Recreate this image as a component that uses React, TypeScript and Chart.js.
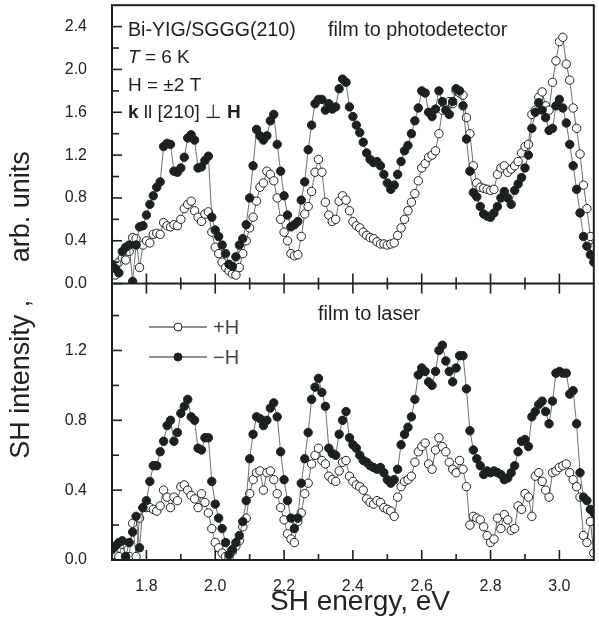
import React, { useEffect, useRef } from 'react';
import { Chart, registerables } from 'chart.js';

Chart.register(...registerables);

// SH energy, eV
const energy = [
  1.70, 1.71, 1.72, 1.73, 1.74, 1.75, 1.76, 1.77, 1.78, 1.79,
  1.80, 1.81, 1.82, 1.83, 1.84, 1.85, 1.86, 1.87, 1.88, 1.89,
  1.90, 1.91, 1.92, 1.93, 1.94, 1.95, 1.96, 1.97, 1.98, 1.99,
  2.00, 2.01, 2.02, 2.03, 2.04, 2.05, 2.06, 2.07, 2.08, 2.09,
  2.10, 2.11, 2.12, 2.13, 2.14, 2.15, 2.16, 2.17, 2.18, 2.19,
  2.20, 2.21, 2.22, 2.23, 2.24, 2.25, 2.26, 2.27, 2.28, 2.29,
  2.30, 2.31, 2.32, 2.33, 2.34, 2.35, 2.36, 2.37, 2.38, 2.39,
  2.40, 2.41, 2.42, 2.43, 2.44, 2.45, 2.46, 2.47, 2.48, 2.49,
  2.50, 2.51, 2.52, 2.53, 2.54, 2.55, 2.56, 2.57, 2.58, 2.59,
  2.60, 2.61, 2.62, 2.63, 2.64, 2.65, 2.66, 2.67, 2.68, 2.69,
  2.70, 2.71, 2.72, 2.73, 2.74, 2.75, 2.76, 2.77, 2.78, 2.79,
  2.80, 2.81, 2.82, 2.83, 2.84, 2.85, 2.86, 2.87, 2.88, 2.89,
  2.90, 2.91, 2.92, 2.93, 2.94, 2.95, 2.96, 2.97, 2.98, 2.99,
  3.00, 3.01, 3.02, 3.03, 3.04, 3.05, 3.06, 3.07, 3.08, 3.09,
  3.10,
];

// Top panel: film to photodetector
const topMinusH = [
  0.18, 0.14, 0.10, 0.30, 0.34, 0.36, 0.02, 0.36, 0.53, 0.54,
  0.64, 0.74, 0.82, 0.90, 0.95, 1.28, 1.31, 1.30, 1.05, 1.04,
  1.08, 1.18, 1.36, 1.39, 1.34, 1.08, 1.09, 1.15, 1.19, 0.62,
  0.50, 0.44, 0.36, 0.28, 0.18, 0.16, 0.25, 0.36, 0.42, 0.55,
  0.80, 1.10, 1.44, 1.38, 1.34, 1.38, 1.52, 1.58, 1.30, 1.05,
  0.82, 0.64, 0.53, 0.55, 0.58, 0.78, 0.95, 1.25, 1.48, 1.68,
  1.72, 1.72, 1.62, 1.68, 1.63, 1.65, 1.82, 1.91, 1.88, 1.65,
  1.56, 1.48, 1.41, 1.32, 1.22, 1.16, 1.13, 1.14, 1.10, 1.02,
  0.94, 0.88, 0.92, 1.02, 1.14, 1.24, 1.29, 1.40, 1.52, 1.64,
  1.80, 1.78, 1.60, 1.56, 1.63, 1.80, 1.70, 1.62, 1.58, 1.70,
  1.82, 1.80, 1.66, 1.35, 1.05, 0.85, 0.81, 0.72, 0.65, 0.63,
  0.62, 0.66, 0.72, 0.80, 0.86, 0.80, 0.74, 0.87, 0.93, 0.99,
  1.08, 1.20, 1.45, 1.60, 1.69, 1.62, 1.55, 1.43, 1.45, 1.66,
  1.72, 1.64, 1.50, 1.30, 1.10, 0.88, 0.66, 0.44, 0.35, 0.27,
  0.20,
];
const topPlusH = [
  0.12, 0.08, 0.20, 0.24, 0.22, 0.30, 0.43, 0.42, 0.15, 0.36,
  0.40, 0.38, 0.46, 0.47, 0.46, 0.57, 0.54, 0.53, 0.55, 0.54,
  0.60, 0.70, 0.74, 0.77, 0.68, 0.62, 0.58, 0.65, 0.67, 0.48,
  0.34, 0.28, 0.20, 0.15, 0.12, 0.09, 0.08, 0.15, 0.28, 0.40,
  0.52, 0.62, 0.77, 0.90, 0.94, 1.05, 1.02, 0.96, 0.80, 0.60,
  0.48, 0.40, 0.28, 0.26, 0.27, 0.44, 0.65, 0.72, 0.86, 1.04,
  1.16, 1.04, 0.76, 0.64, 0.58, 0.60, 0.77, 0.82, 0.78, 0.68,
  0.58, 0.54, 0.52, 0.48, 0.45, 0.43, 0.42, 0.39, 0.37, 0.37,
  0.36, 0.37, 0.38, 0.45, 0.52, 0.60, 0.68, 0.76, 0.84, 0.96,
  1.08, 1.12, 1.18, 1.20, 1.24, 1.40, 1.62, 1.68, 1.70, 1.68,
  1.80, 1.78, 1.76, 1.55, 1.40, 1.10, 0.94, 0.90, 0.89, 0.88,
  0.87, 0.88, 1.02, 1.08, 1.10, 1.04, 1.07, 1.10, 1.14, 1.22,
  1.28, 1.30, 1.58, 1.62, 1.74, 1.79, 1.66, 1.62, 1.88, 2.08,
  2.26, 2.30, 2.05, 1.90, 1.64, 1.45, 1.21, 0.92, 0.70, 0.44,
  0.34,
];

// Bottom panel: film to laser
const botMinusH = [
  0.06, 0.08, 0.10, 0.11, 0.02, 0.10, 0.16, 0.25, 0.07, 0.30,
  0.34, 0.45, 0.54, 0.54, 0.62, 0.68, 0.77, 0.80, 0.68, 0.73,
  0.84, 0.88, 0.92, 0.82, 0.80, 0.64, 0.63, 0.70, 0.70, 0.45,
  0.32, 0.24, 0.18, 0.10, 0.03, 0.06, 0.10, 0.14, 0.22, 0.34,
  0.58, 0.72, 0.82, 0.81, 0.77, 0.80, 0.87, 0.90, 0.82, 0.62,
  0.46, 0.34, 0.24, 0.18, 0.24, 0.44, 0.58, 0.73, 0.92, 0.99,
  1.04, 0.96, 0.88, 0.64, 0.61, 0.60, 0.72, 0.80, 0.85, 0.70,
  0.66, 0.64, 0.60, 0.57, 0.56, 0.54, 0.53, 0.52, 0.53, 0.50,
  0.46, 0.44, 0.46, 0.52, 0.66, 0.72, 0.76, 0.82, 0.92, 1.06,
  1.10, 1.08, 1.02, 1.00, 1.08, 1.20, 1.23, 1.14, 1.08, 1.02,
  1.10, 1.17, 1.17, 0.98, 0.74, 0.63, 0.58, 0.54, 0.49, 0.51,
  0.50, 0.51, 0.50, 0.49, 0.46, 0.47, 0.50, 0.54, 0.62, 0.68,
  0.69, 0.65, 0.82, 0.85, 0.89, 0.91, 0.85, 0.78, 0.91, 1.07,
  1.08, 1.07, 1.07, 0.95, 0.97, 0.78, 0.50, 0.36, 0.34, 0.29,
  0.27,
];
const botPlusH = [
  0.04, 0.03, 0.02, 0.09, 0.02, 0.02, 0.21, 0.02, 0.24, 0.30,
  0.30, 0.30, 0.29, 0.28, 0.31, 0.40, 0.36, 0.30, 0.36, 0.34,
  0.42, 0.43, 0.40, 0.37, 0.35, 0.30, 0.38, 0.33, 0.27, 0.18,
  0.10, 0.07, 0.04, 0.02, 0.01, 0.05, 0.08, 0.11, 0.19, 0.24,
  0.38, 0.46, 0.50, 0.51, 0.40, 0.50, 0.51, 0.46, 0.38, 0.30,
  0.23, 0.15, 0.12, 0.10, 0.22, 0.27, 0.38, 0.44, 0.55, 0.60,
  0.64, 0.57, 0.55, 0.48, 0.46, 0.45, 0.51, 0.56, 0.57, 0.48,
  0.45, 0.43, 0.42, 0.40, 0.35, 0.33, 0.32, 0.34, 0.33, 0.30,
  0.29, 0.28, 0.25, 0.36, 0.42, 0.45, 0.46, 0.48, 0.56, 0.62,
  0.65, 0.67, 0.55, 0.52, 0.63, 0.70, 0.65, 0.62, 0.56, 0.52,
  0.50, 0.57, 0.52, 0.42, 0.20, 0.25, 0.24, 0.23, 0.19, 0.14,
  0.10, 0.12, 0.24, 0.18, 0.26, 0.23, 0.17, 0.18, 0.31, 0.29,
  0.38, 0.36, 0.25, 0.48, 0.50, 0.45, 0.40, 0.36, 0.50, 0.51,
  0.53, 0.54, 0.55, 0.50, 0.46, 0.42, 0.36, 0.14, 0.10, 0.22,
  0.04,
];

const xTicks = [1.8, 2.0, 2.2, 2.4, 2.6, 2.8, 3.0];
const xMinorTicks = [1.9, 2.1, 2.3, 2.5, 2.7, 2.9];
const topTicks = [0, 0.4, 0.8, 1.2, 1.6, 2.0, 2.4];
const topMinorTicks = [0.2, 0.6, 1.0, 1.4, 1.8, 2.2];
const botTicks = [0, 0.4, 0.8, 1.2];
const botMinorTicks = [0.2, 0.6, 1.0, 1.4];

const FONT = '"Liberation Sans", Arial, Helvetica, "DejaVu Sans", sans-serif';
const INK = '#1b2120';
const TEXT = '#222222';

const toPts = (ys: number[]) => energy.map((x, i) => ({ x, y: ys[i] }));

type Run = { t: string; w?: string; s?: string };
function drawRuns(ctx: CanvasRenderingContext2D, runs: Run[], x: number, y: number, size: number, color: string) {
  let cx = x;
  ctx.fillStyle = color;
  ctx.textBaseline = 'alphabetic';
  ctx.textAlign = 'left';
  for (const r of runs) {
    ctx.font = `${r.s || 'normal'} ${r.w || 'normal'} ${size}px ${FONT}`;
    ctx.fillText(r.t, cx, y);
    cx += ctx.measureText(r.t).width;
  }
}

const framePlugin = {
  id: 'frameAndNotes',
  afterDatasetsDraw(chart: any) {
    const { ctx } = chart;
    const xs = chart.scales.x;
    const yt = chart.scales.yTop;
    const yb = chart.scales.yBot;
    ctx.save();
    ctx.strokeStyle = INK;
    ctx.lineWidth = 2;
    ctx.strokeRect(xs.left, yt.top, xs.right - xs.left, yb.bottom - yt.top);
    ctx.beginPath();
    ctx.moveTo(xs.left, yt.bottom);
    ctx.lineTo(xs.right, yt.bottom);
    ctx.stroke();

    ctx.lineWidth = 1.6;
    const seg = (x1: number, y1: number, x2: number, y2: number) => {
      ctx.beginPath();
      ctx.moveTo(x1, y1);
      ctx.lineTo(x2, y2);
      ctx.stroke();
    };
    const xTick = (vals: number[], len: number) => {
      for (const v of vals) {
        const px = xs.getPixelForValue(v);
        seg(px, yt.bottom, px, yt.bottom - len);
        seg(px, yb.top, px, yb.top + len);
        seg(px, yb.bottom, px, yb.bottom - len);
      }
    };
    xTick(xTicks, 10);
    xTick(xMinorTicks, 6);
    const yTick = (scale: any, vals: number[], len: number) => {
      for (const v of vals) {
        const py = scale.getPixelForValue(v);
        seg(xs.left, py, xs.left + len, py);
      }
    };
    yTick(yt, topTicks, 10);
    yTick(yt, topMinorTicks, 7);
    yTick(yb, botTicks, 10);
    yTick(yb, botMinorTicks, 7);

    // annotations
    const L = xs.left + 16;
    drawRuns(ctx, [{ t: 'Bi-YIG/SGGG(210)' }], L, 36, 19.6, INK);
    drawRuns(ctx, [{ t: 'film to photodetector' }], 328, 36, 19.8, INK);
    drawRuns(ctx, [{ t: 'T', s: 'italic' }, { t: ' = 6 K' }], L, 63, 19, INK);
    drawRuns(ctx, [{ t: 'H = \u00b12 T' }], L, 91, 19, INK);
    drawRuns(ctx, [{ t: 'k', w: 'bold' }, { t: ' ll [210] \u22a5 ' }, { t: 'H', w: 'bold' }], L, 118, 19, INK);
    drawRuns(ctx, [{ t: 'film to laser' }], 318, 320, 20, INK);

    // legend
    const legendRow = (y: number, filled: boolean, label: string) => {
      ctx.strokeStyle = '#222';
      ctx.lineWidth = 1;
      seg(149, y, 207, y);
      ctx.beginPath();
      ctx.arc(178, y, 4, 0, Math.PI * 2);
      ctx.fillStyle = filled ? INK : '#ffffff';
      ctx.fill();
      ctx.strokeStyle = INK;
      ctx.stroke();
      drawRuns(ctx, [{ t: label }], 213, y + 7, 20, '#444');
    };
    legendRow(327, false, '+H');
    legendRow(357, true, '\u2212H');

    // axis titles
    ctx.font = `28px ${FONT}`;
    ctx.fillStyle = TEXT;
    ctx.textAlign = 'center';
    ctx.textBaseline = 'alphabetic';
    ctx.fillText('SH energy, eV', 360, 610);

    ctx.save();
    ctx.translate(29, 305);
    ctx.rotate(-Math.PI / 2);
    ctx.font = `27px ${FONT}`;
    ctx.fillStyle = TEXT;
    ctx.textAlign = 'center';
    ctx.textBaseline = 'alphabetic';
    ctx.fillText('SH intensity ,     arb. units', 0, 0);
    ctx.restore();

    ctx.restore();
  },
};

export default function App() {
  const ref = useRef<HTMLCanvasElement | null>(null);

  useEffect(() => {
    if (!ref.current) return;
    const tickFont = { family: FONT, size: 16 };
    const common = (ticks: number[]) => ({
      type: 'linear' as const,
      position: 'left' as const,
      stack: 'panels',
      min: 0,
      afterBuildTicks: (s: any) => {
        s.ticks = ticks.map((value) => ({ value }));
      },
      afterFit: (s: any) => {
        s.width = 112;
        s.paddingTop = 0;
        s.paddingBottom = 0;
        s.paddingLeft = 0;
        s.paddingRight = 0;
      },
      ticks: {
        callback: (v: any) => Number(v).toFixed(1),
        font: tickFont,
        color: TEXT,
        padding: 25,
        autoSkip: false,
      },
      grid: { display: false, drawTicks: false },
      border: { display: false },
    });

    const mk = (data: number[], filled: boolean, yAxisID: string, order: number) => ({
      data: toPts(data),
      yAxisID,
      xAxisID: 'x',
      showLine: true,
      order,
      borderColor: '#4a4a4a',
      borderWidth: 0.8,
      pointRadius: 4.2,
      pointBorderWidth: 1,
      pointBackgroundColor: filled ? INK : '#ffffff',
      pointBorderColor: INK,
      pointHoverRadius: 4.2,
    });

    const chart = new Chart(ref.current, {
      type: 'scatter',
      data: {
        datasets: [
          mk(topMinusH, true, 'yTop', 1),
          mk(topPlusH, false, 'yTop', 2),
          mk(botMinusH, true, 'yBot', 1),
          mk(botPlusH, false, 'yBot', 2),
        ] as any,
      },
      options: {
        responsive: false,
        animation: false,
        devicePixelRatio: 1,
        events: [],
        layout: { padding: { top: 4, right: 1, left: 0, bottom: 0 } },
        plugins: {
          legend: { display: false },
          tooltip: { enabled: false },
          title: { display: false },
        },
        scales: {
          x: {
            type: 'linear',
            position: 'bottom',
            min: 1.7,
            max: 3.1,
            afterBuildTicks: (s: any) => {
              s.ticks = xTicks.map((value) => ({ value }));
            },
            afterFit: (s: any) => {
              s.height = 70;
              s.paddingTop = 0;
              s.paddingBottom = 0;
              s.paddingLeft = 0;
              s.paddingRight = 0;
            },
            ticks: {
              callback: (v: any) => Number(v).toFixed(1),
              font: tickFont,
              color: TEXT,
              padding: 17,
              maxRotation: 0,
              autoSkip: false,
            },
            grid: { display: false, drawTicks: false },
            border: { display: false },
            title: { display: false },
          },
          yBot: { ...common(botTicks), max: 1.583, stackWeight: 277 },
          yTop: { ...common(topTicks), max: 2.6, stackWeight: 279 },
        } as any,
      },
      plugins: [framePlugin],
    });
    return () => chart.destroy();
  }, []);

  return (
    <div style={{ position: 'absolute', left: 0, top: 0, width: 599, height: 630, background: '#fff' }}>
      <canvas ref={ref} width={599} height={630} style={{ display: 'block', width: 599, height: 630 }} />
    </div>
  );
}
